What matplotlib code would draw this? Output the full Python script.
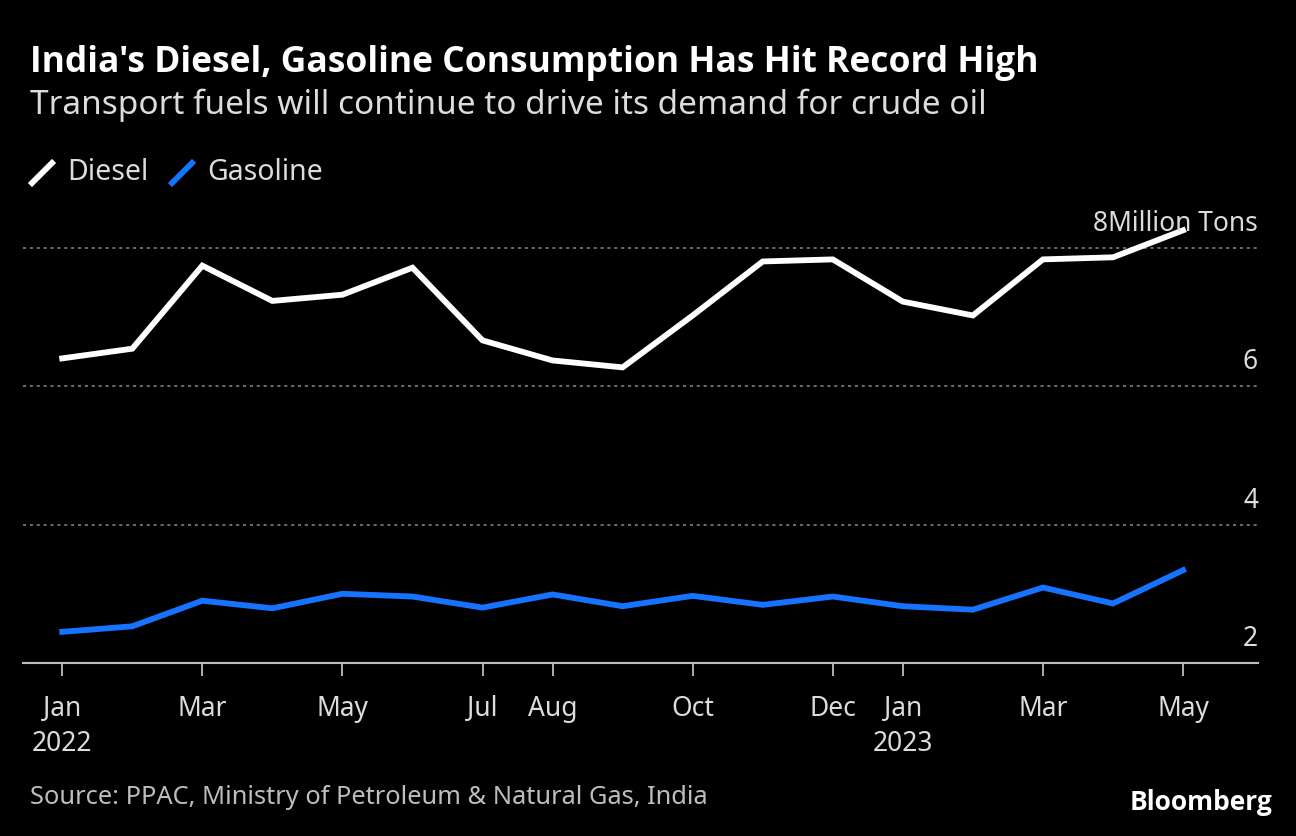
import matplotlib
matplotlib.use("Agg")
import matplotlib.pyplot as plt
from matplotlib.lines import Line2D

# ---
# Data (million tons per month), Jan 2022 - May 2023

months = list(range(17))
diesel = [6.40, 6.54, 7.74, 7.23, 7.32, 7.71, 6.66, 6.37, 6.27, 7.02,
          7.80, 7.83, 7.22, 7.02, 7.83, 7.86, 8.25]
gasoline = [2.45, 2.53, 2.90, 2.79, 3.00, 2.96, 2.80, 2.99, 2.82, 2.97,
            2.84, 2.96, 2.82, 2.77, 3.09, 2.86, 3.34]

tick_pos = [0, 2, 4, 6, 7, 9, 11, 12, 14, 16]
tick_labels = ["Jan\n2022", "Mar", "May", "Jul", "Aug", "Oct", "Dec",
               "Jan\n2023", "Mar", "May"]
y_ticks = [2, 4, 6, 8]
y_labels = ["2", "4", "6", "8Million Tons"]

BG = "#000000"
TXT = "#dcdcdc"
BLUE = "#1673ff"
FONT = ["Noto Sans", "DejaVu Sans"]
BOLD = ["Open Sans", "DejaVu Sans"]

W, H = 1296, 836
fig = plt.figure(figsize=(W / 100, H / 100), dpi=100, facecolor=BG)

ax_left, ax_right, ax_top, ax_bot = 23, 1258, 213, 663
ax = fig.add_axes([ax_left / W, 1 - ax_bot / H, (ax_right - ax_left) / W, (ax_bot - ax_top) / H])
ax.set_facecolor(BG)

for y in y_ticks[1:]:
    ax.axhline(y, color="#8a8a8a", lw=1.1, ls=(0, (2, 2.5)), zorder=1)

ax.plot(months, diesel, color="#ffffff", lw=4.2, solid_joinstyle="miter", zorder=3)
ax.plot(months, gasoline, color=BLUE, lw=4.2, solid_joinstyle="miter", zorder=3)

ax.set_xlim(-0.56, 17.07)
ax.set_ylim(2, 8.5)

for s in ["top", "right", "left"]:
    ax.spines[s].set_visible(False)
ax.spines["bottom"].set_color("#bdbdbd")
ax.spines["bottom"].set_linewidth(1.5)

ax.set_xticks(tick_pos)
ax.set_xticklabels(tick_labels, family=FONT, fontsize=19, color=TXT, linespacing=1.35)
ax.tick_params(axis="x", length=9, width=1.3, color="#bdbdbd", pad=14)
ax.set_yticks([])

for y, lab in zip(y_ticks, y_labels):
    ax.text(1.0, y + 0.14, lab, transform=ax.get_yaxis_transform(), ha="right", va="bottom",
            family=FONT, fontsize=19, color=TXT)

# Header
fig.text(30 / W, 1 - 63 / H, "India's Diesel, Gasoline Consumption Has Hit Record High",
         family=BOLD, fontsize=25.5, fontweight="bold", color="#ffffff", va="center")
fig.text(30 / W, 1 - 105 / H, "Transport fuels will continue to drive its demand for crude oil",
         family=FONT, fontsize=24, color=TXT, va="center")

# Legend with slash markers
for x0, col, lab in [(32, "#ffffff", "Diesel"), (172, BLUE, "Gasoline")]:
    fig.add_artist(Line2D([x0 / W, (x0 + 20) / W], [1 - 183 / H, 1 - 163 / H],
                          color=col, lw=4.2, transform=fig.transFigure))
    fig.text((x0 + 35) / W, 1 - 172 / H, lab, family=FONT, fontsize=20.5, color=TXT, va="center")

# Footer
fig.text(30 / W, 1 - 797 / H, "Source: PPAC, Ministry of Petroleum & Natural Gas, India",
         family=FONT, fontsize=18.3, color="#bdbdbd", va="center")
fig.text(1272 / W, 1 - 802 / H, "Bloomberg", family=BOLD, fontsize=19, fontweight="bold",
         color="#ffffff", ha="right", va="center")

fig.savefig("out.png", dpi=100, facecolor=BG)
